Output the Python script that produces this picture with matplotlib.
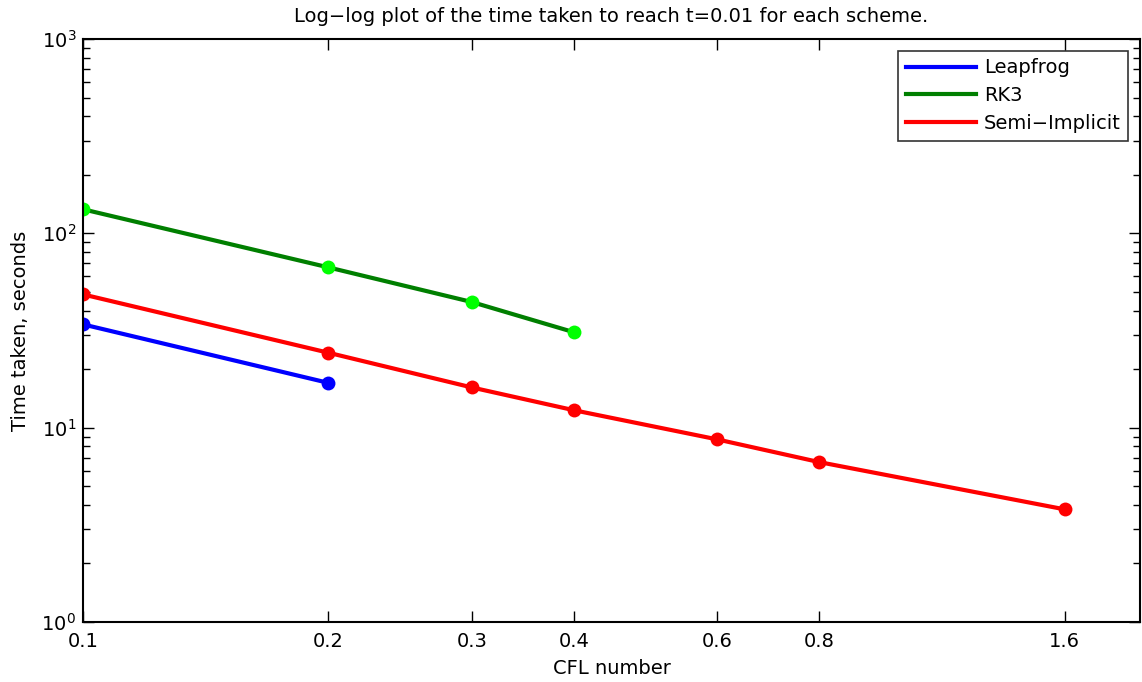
import numpy as np
import matplotlib
matplotlib.use("Agg")
import matplotlib.pyplot as plt
from matplotlib.ticker import FixedLocator, FixedFormatter, LogLocator, NullLocator

plt.rcParams["font.family"] = ["DejaVu Sans"]
plt.rcParams["mathtext.fontset"] = "dejavusans"

# ----------------------------------------------------------------
# Data
# ----------------------------------------------------------------
cfl_leapfrog = [0.1, 0.2]
time_leapfrog = [34.0, 17.0]

cfl_rk3 = [0.1, 0.2, 0.3, 0.4]
time_rk3 = [133.0, 66.8, 44.3, 31.0]

cfl_semi = [0.1, 0.2, 0.3, 0.4, 0.6, 0.8, 1.6]
time_semi = [48.5, 24.3, 16.1, 12.3, 8.7, 6.65, 3.8]

xtick_vals = [0.1, 0.2, 0.3, 0.4, 0.6, 0.8, 1.6]
xtick_labels = ["0.1", "0.2", "0.3", "0.4", "0.6", "0.8", "1.6"]

# ----------------------------------------------------------------
# Plot
# ----------------------------------------------------------------
fig = plt.figure(figsize=(11.42, 6.82), dpi=100)
ax = fig.add_axes([83 / 1142, 1 - 622 / 682, (1140 - 83) / 1142, (622 - 39) / 682])

lw = 3.0
ms = 10
ax.plot(cfl_leapfrog, time_leapfrog, color="#0000FF", lw=lw, label="Leapfrog")
ax.plot(cfl_rk3, time_rk3, color="#007F00", lw=lw, label="RK3")
ax.plot(cfl_semi, time_semi, color="#FF0000", lw=lw, label="Semi\u2212Implicit")

# marker dots drawn separately (legend shows lines only)
ax.plot(cfl_leapfrog, time_leapfrog, "o", color="#0000FF", ms=ms, mew=0)
ax.plot(cfl_rk3, time_rk3, "o", color="#00FF00", ms=ms, mew=0)
ax.plot(cfl_semi, time_semi, "o", color="#FF0000", ms=ms, mew=0)

ax.set_xscale("log")
ax.set_yscale("log")
ax.set_xlim(0.1, 1.98)
ax.set_ylim(1, 1000)

ax.xaxis.set_major_locator(FixedLocator(xtick_vals))
ax.xaxis.set_major_formatter(FixedFormatter(xtick_labels))
ax.xaxis.set_minor_locator(NullLocator())
ax.yaxis.set_major_locator(LogLocator(base=10, numticks=10))
ax.yaxis.set_minor_locator(LogLocator(base=10, subs=np.arange(2, 10), numticks=20))

ax.tick_params(which="both", direction="in", top=True, right=True,
               labelsize=14, width=1.0)
ax.tick_params(which="major", length=8)
ax.tick_params(which="minor", length=5)
ax.tick_params(axis="x", which="major", pad=7)
ax.tick_params(axis="y", which="major", pad=5)
for s in ax.spines.values():
    s.set_linewidth(1.5)

ax.set_xlabel("CFL number", fontsize=14, labelpad=6)
ax.set_ylabel("Time taken, seconds", fontsize=14, labelpad=8)
ax.set_title("Log\u2212log plot of the time taken to reach t=0.01 for each scheme.",
             fontsize=14, pad=12)

leg = ax.legend(loc="upper right", fontsize=14, frameon=True, fancybox=False,
                edgecolor="black", handlelength=3.6, borderpad=0.4,
                labelspacing=0.45, handletextpad=0.4, borderaxespad=0.6)
leg.get_frame().set_linewidth(1.2)

fig.savefig("out.png", dpi=100)
